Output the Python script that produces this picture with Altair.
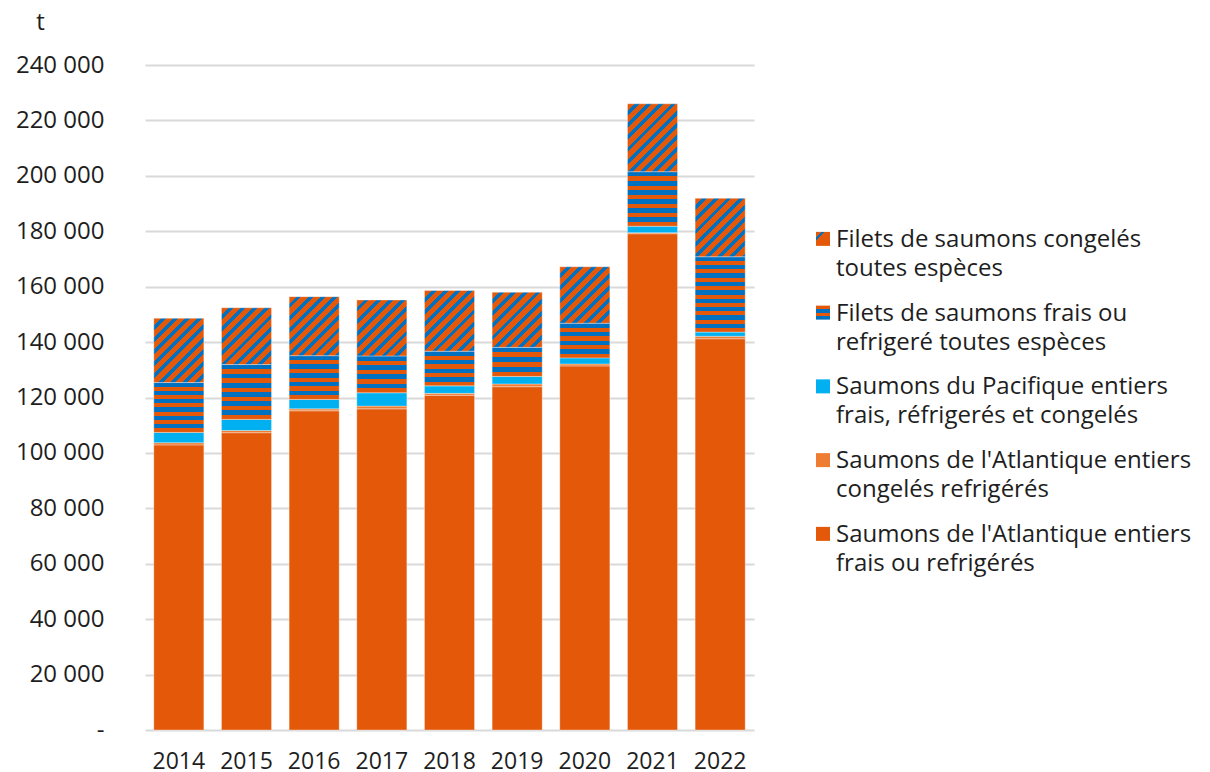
import math
import altair as alt
import pandas as pd

# ---------------- data (tonnes) ----------------
years = [2014, 2015, 2016, 2017, 2018, 2019, 2020, 2021, 2022]
atl_frais = [102900, 107300, 115200, 115900, 120800, 123900, 131400, 179100, 141200]
atl_cong = [800, 800, 700, 1000, 700, 1000, 700, 400, 900]
pacifique = [3700, 4000, 3400, 4800, 2700, 2700, 2200, 2300, 1500]
filets_frais = [18000, 19800, 15800, 13300, 12500, 10500, 12500, 19700, 27200]
filets_cong = [23200, 20500, 21300, 20200, 21900, 19900, 20400, 24500, 21100]

series_names = [
    "Saumons de l'Atlantique entiers\nfrais ou refrigérés",
    "Saumons de l'Atlantique entiers\ncongelés refrigérés",
    "Saumons du Pacifique entiers\nfrais, réfrigerés et congelés",
    "Filets de saumons frais ou\nrefrigeré toutes espèces",
    "Filets de saumons congelés\ntoutes espèces",
]
series_values = [atl_frais, atl_cong, pacifique, filets_frais, filets_cong]
y_ticks = list(range(0, 240001, 20000))

# ---------------- styles ----------------
FONT = "Open Sans"
TEXT = "#1e1e1e"
ORANGE = "#E35809"
LIGHT_ORANGE = "#EE7D33"
CYAN = "#00B0F0"
BLUE = "#0070C0"
GRID = "#d9d9d9"

W, H = 609, 665
P_IN, P_OUT = 0.26, 0.13
YMAX = 240000
bar_w = W / (len(years) - P_IN + 2 * P_OUT) * (1 - P_IN)

rows = []
for i, yr in enumerate(years):
    base = 0
    for s, vals in zip(series_names, series_values):
        rows.append({"year": str(yr), "series": s, "y0": base, "y1": base + vals[i], "value": vals[i]})
        base += vals[i]
df = pd.DataFrame(rows)
year_str = [str(y) for y in years]


def stripe_stops(n, c1, c2, frac=0.5):
    stops = []
    k = 0
    while k / n < 1:
        a = k / n
        m = min((k + frac) / n, 1)
        b = min((k + 1) / n, 1)
        stops += [alt.GradientStop(color=c1, offset=a), alt.GradientStop(color=c1, offset=m)]
        if m < 1:
            stops += [alt.GradientStop(color=c2, offset=m), alt.GradientStop(color=c2, offset=b)]
        k += 1
    return stops


def horiz_gradient(h_px, pitch=8.5):
    n = max(1, round(h_px / pitch))
    return alt.LinearGradient(gradient="linear", stops=stripe_stops(n, BLUE, ORANGE, 0.52), x1=0, y1=0, x2=0, y2=1)


def diag_gradient(w_px, h_px, pitch=8.6):
    r = w_px / h_px
    b = (r + 1) / (r * r + 1)
    a = r * b
    n = (w_px + h_px) / math.sqrt(2) / pitch
    return alt.LinearGradient(gradient="linear", stops=stripe_stops(n, ORANGE, BLUE, 0.6), x1=0, y1=0, x2=a, y2=b)


x_enc = alt.X(
    "year:N",
    sort=year_str,
    scale=alt.Scale(paddingInner=P_IN, paddingOuter=P_OUT),
    axis=alt.Axis(
        title=None, labelAngle=0, labelFontSize=23, labelFont=FONT, labelColor=TEXT,
        ticks=False, domain=False, labelPadding=20,
    ),
)
y_enc = alt.Y(
    "y0:Q",
    scale=alt.Scale(domain=[0, YMAX], nice=False),
    axis=alt.Axis(
        values=y_ticks,
        labelExpr="datum.value == 0 ? '-\u2007' : replace(format(datum.value, ','), ',', ' ')",
        title="t", titleAngle=0, titleAlign="center", titleBaseline="middle",
        titleX=-105, titleY=-43, titleFontSize=24, titleFont=FONT, titleFontWeight="normal",
        titleColor=TEXT, labelFontSize=24, labelFont=FONT, labelColor=TEXT,
        labelPadding=41, ticks=False, domain=False, gridColor=GRID, gridWidth=2,
    ),
)
y2_enc = alt.Y2("y1:Q")

bar_style = dict(stroke="white", strokeOpacity=0.35, strokeWidth=1)

solid = alt.Chart(df).transform_filter(
    alt.FieldOneOfPredicate(field="series", oneOf=series_names[:3])
).mark_bar(**bar_style).encode(
    x=x_enc, y=y_enc, y2=y2_enc,
    color=alt.Color("series:N", scale=alt.Scale(domain=series_names[:3], range=[ORANGE, LIGHT_ORANGE, CYAN]), legend=None),
)

layers = [solid]
for i, yr in enumerate(years):
    for s_idx in (3, 4):
        v = series_values[s_idx][i]
        h_px = v * H / YMAX
        grad = horiz_gradient(h_px) if s_idx == 3 else diag_gradient(bar_w, h_px)
        layers.append(
            alt.Chart(df).transform_filter(
                (alt.datum.year == str(yr)) & (alt.datum.series == series_names[s_idx])
            ).mark_bar(fill=grad, **bar_style).encode(x=x_enc, y=y_enc, y2=y2_enc)
        )

main = alt.layer(*layers).properties(width=W, height=H)

# ---------------- legend ----------------
legend_order = list(reversed(series_names))
leg_df = pd.DataFrame({"label": legend_order})
leg_y = alt.Y("label:N", sort=legend_order, scale=alt.Scale(domain=legend_order, range=[137, 505.75]), axis=None)
sym_fills = {
    series_names[0]: ORANGE,
    series_names[1]: LIGHT_ORANGE,
    series_names[2]: CYAN,
    series_names[3]: alt.LinearGradient(gradient="linear", stops=stripe_stops(2, ORANGE, BLUE), x1=0, y1=0, x2=0, y2=1),
    series_names[4]: alt.LinearGradient(gradient="linear", stops=stripe_stops(1.6, ORANGE, BLUE, 0.6), x1=0, y1=0, x2=0.5, y2=0.5),
}
leg_layers = []
for s in legend_order:
    leg_layers.append(
        alt.Chart(leg_df).transform_filter(alt.datum.label == s).mark_square(
            size=196, fill=sym_fills[s], opacity=1, strokeWidth=0
        ).encode(x=alt.value(49), y=leg_y)
    )
leg_layers.append(
    alt.Chart(leg_df).mark_text(
        align="left", baseline="alphabetic", dy=8, fontSize=24, font=FONT, color=TEXT,
        lineBreak="\n", lineHeight=29,
    ).encode(x=alt.value(62), y=leg_y, text="label:N")
)
legend = alt.layer(*leg_layers).properties(width=415, height=H)

chart = alt.hconcat(main, legend, spacing=20).properties(
    padding={"left": 7, "top": 2, "right": 0, "bottom": 0}
).configure_view(stroke=None)

chart.save("out.html", embed_options={"renderer": "svg", "actions": False})
